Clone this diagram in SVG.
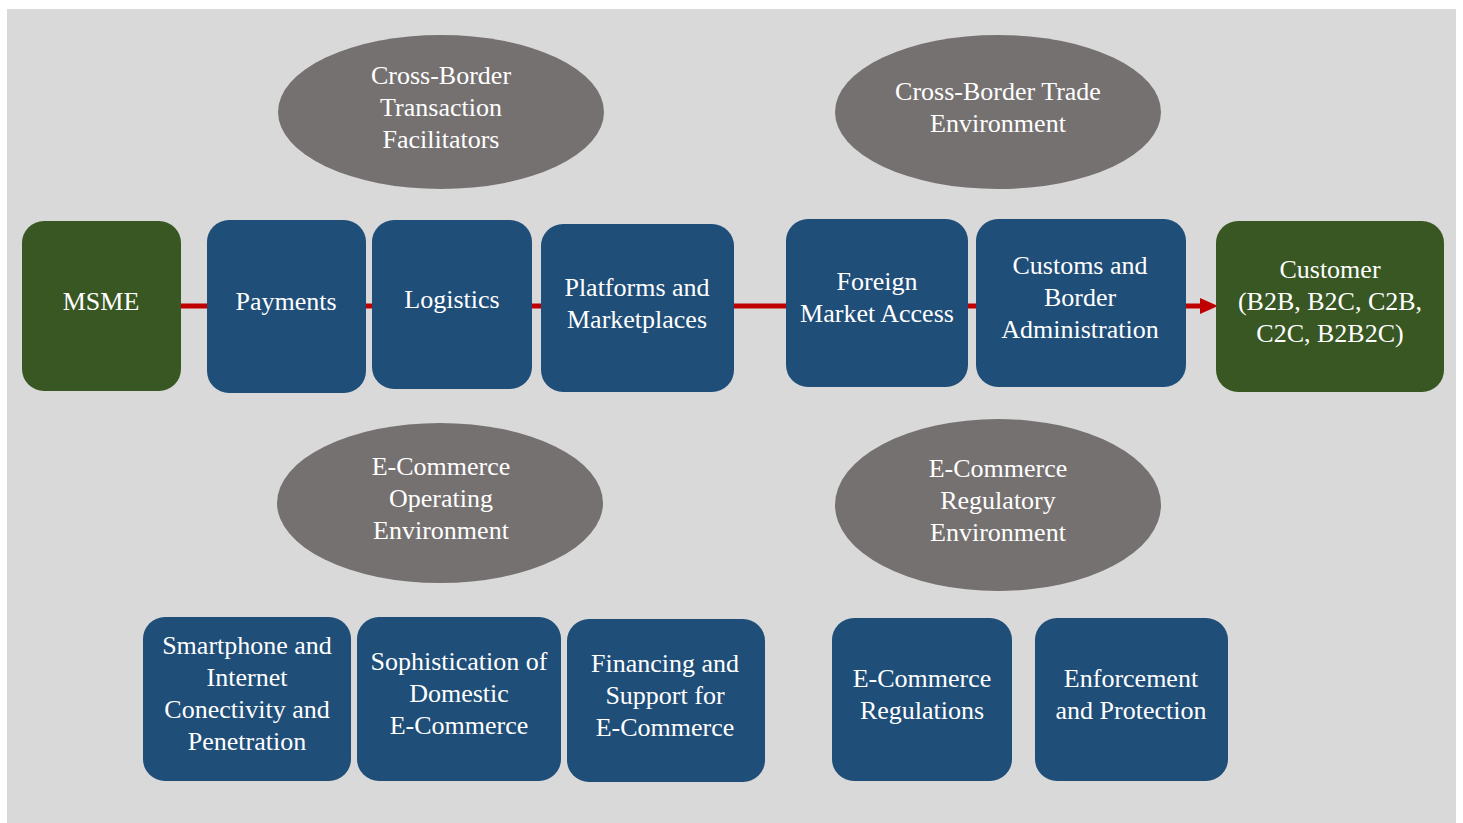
<svg xmlns="http://www.w3.org/2000/svg" width="1463" height="823" viewBox="0 0 1463 823">
  <style>
    .box { fill: #1f4e79; }
    .end { fill: #385723; }
    .oval { fill: #767171; }
    text { font-family: "Liberation Serif", "DejaVu Serif", serif; font-size: 26px; fill: #ffffff; text-anchor: middle; }
  </style>
  <defs>
    <marker id="arrowhead" markerUnits="userSpaceOnUse" markerWidth="18" markerHeight="16" refX="0" refY="8" orient="auto">
      <path d="M0,0 L18,8 L0,16 Z" fill="#c00000"/>
    </marker>
  </defs>

  <rect x="0" y="0" width="1463" height="823" fill="#ffffff"/>
  <rect x="7" y="9" width="1449" height="814" fill="#d9d9d9"/>

  <g id="connectors">
    <line x1="181" y1="306" x2="1200" y2="306" stroke="#c00000" stroke-width="5" marker-end="url(#arrowhead)"/>
  </g>

  <g id="msme">
    <rect class="end" x="22" y="221" width="159" height="170" rx="22"/>
    <text x="101" y="310">MSME</text>
  </g>
  <g id="payments">
    <rect class="box" x="207" y="220" width="159" height="173" rx="22"/>
    <text x="286" y="310">Payments</text>
  </g>
  <g id="logistics">
    <rect class="box" x="372" y="220" width="160" height="169" rx="22"/>
    <text x="452" y="308">Logistics</text>
  </g>
  <g id="platforms">
    <rect class="box" x="541" y="224" width="193" height="168" rx="22"/>
    <text x="637" y="296">Platforms and</text>
    <text x="637" y="328">Marketplaces</text>
  </g>
  <g id="foreign-market">
    <rect class="box" x="786" y="219" width="182" height="168" rx="22"/>
    <text x="877" y="290">Foreign</text>
    <text x="877" y="322">Market Access</text>
  </g>
  <g id="customs">
    <rect class="box" x="976" y="219" width="210" height="168" rx="22"/>
    <text x="1080" y="274">Customs and</text>
    <text x="1080" y="306">Border</text>
    <text x="1080" y="338">Administration</text>
  </g>
  <g id="customer">
    <rect class="end" x="1216" y="221" width="228" height="171" rx="22"/>
    <text x="1330" y="278">Customer</text>
    <text x="1330" y="310">(B2B, B2C, C2B,</text>
    <text x="1330" y="342">C2C, B2B2C)</text>
  </g>

  <g id="transaction-facilitators">
    <ellipse class="oval" cx="441" cy="112" rx="163" ry="77"/>
    <text x="441" y="84">Cross-Border</text>
    <text x="441" y="116">Transaction</text>
    <text x="441" y="148">Facilitators</text>
  </g>
  <g id="trade-environment">
    <ellipse class="oval" cx="998" cy="112" rx="163" ry="77"/>
    <text x="998" y="100">Cross-Border Trade</text>
    <text x="998" y="132">Environment</text>
  </g>
  <g id="operating-environment">
    <ellipse class="oval" cx="440" cy="503" rx="163" ry="80"/>
    <text x="441" y="475">E-Commerce</text>
    <text x="441" y="507">Operating</text>
    <text x="441" y="539">Environment</text>
  </g>
  <g id="regulatory-environment">
    <ellipse class="oval" cx="998" cy="505" rx="163" ry="86"/>
    <text x="998" y="477">E-Commerce</text>
    <text x="998" y="509">Regulatory</text>
    <text x="998" y="541">Environment</text>
  </g>

  <g id="smartphone">
    <rect class="box" x="143" y="617" width="208" height="164" rx="22"/>
    <text x="247" y="654">Smartphone and</text>
    <text x="247" y="686">Internet</text>
    <text x="247" y="718">Conectivity and</text>
    <text x="247" y="750">Penetration</text>
  </g>
  <g id="sophistication">
    <rect class="box" x="357" y="617" width="204" height="164" rx="22"/>
    <text x="459" y="670">Sophistication of</text>
    <text x="459" y="702">Domestic</text>
    <text x="459" y="734">E-Commerce</text>
  </g>
  <g id="financing">
    <rect class="box" x="567" y="619" width="198" height="163" rx="22"/>
    <text x="665" y="672">Financing and</text>
    <text x="665" y="704">Support for</text>
    <text x="665" y="736">E-Commerce</text>
  </g>
  <g id="regulations">
    <rect class="box" x="832" y="618" width="180" height="163" rx="22"/>
    <text x="922" y="687">E-Commerce</text>
    <text x="922" y="719">Regulations</text>
  </g>
  <g id="enforcement">
    <rect class="box" x="1035" y="618" width="193" height="163" rx="22"/>
    <text x="1131" y="687">Enforcement</text>
    <text x="1131" y="719">and Protection</text>
  </g>
</svg>
